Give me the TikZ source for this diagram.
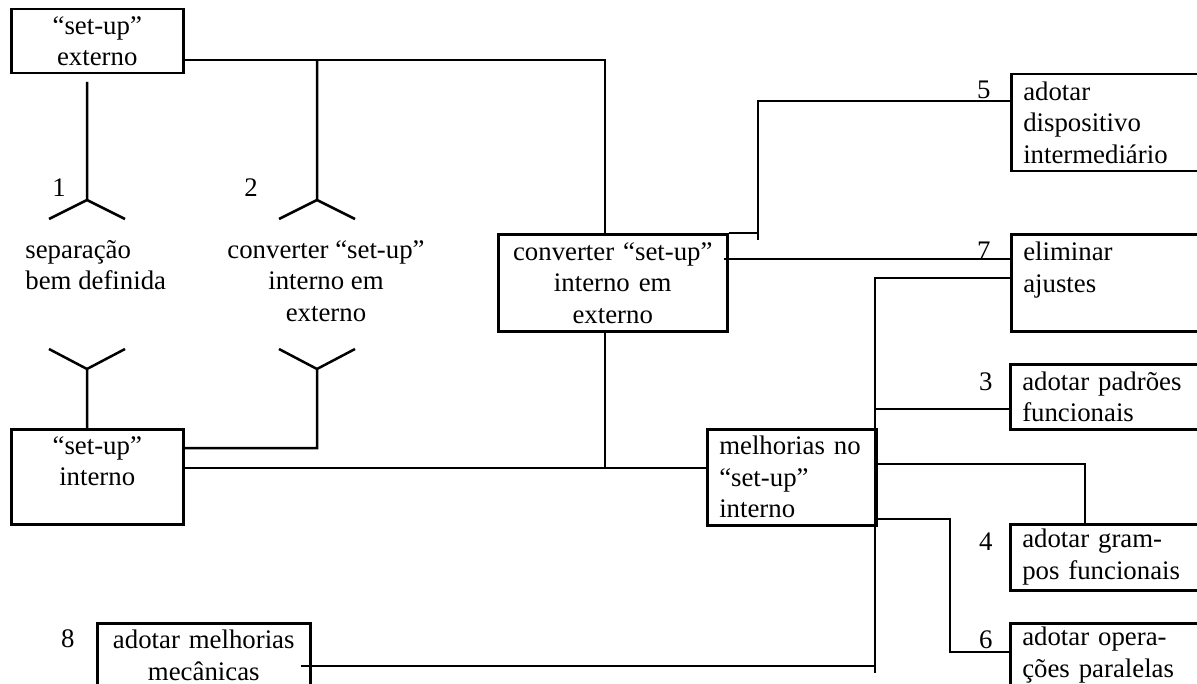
\documentclass[tikz,border=0pt]{standalone}
\usepackage{fontspec}
\setmainfont{Liberation Serif}
\usepackage{tikz}
\usetikzlibrary{positioning,calc}
\tikzset{every node/.append style={align=center}}

\begin{document}
\begin{tikzpicture}[
    x=0.5pt, y=-0.5pt,
    box/.style={draw, line width=1.25pt, anchor=north west, inner ysep=0pt, inner xsep=4pt, font=\fontsize{13.4}{15.75}\selectfont},
    lbox/.style={box, align=left, inner xsep=6pt},
    txt/.style={inner sep=0pt, font=\fontsize{13.4}{15.75}\selectfont},
    link/.style={line width=1.25pt}
]
    \useasboundingbox (0,0) rectangle (1197,684);

    % Set-up externo
    \node[box, minimum width=86pt, text width=78pt, minimum height=32pt] (ext) at (10,8) {
        “set-up”\\
        externo
    };

    % Set-up interno
    \node[box, minimum width=86pt, text width=78pt, minimum height=47.5pt] (int) at (10,428) {
        “set-up”\\
        interno\\
        ~
    };

    % Converter set-up (box)
    \node[box, minimum width=114.5pt, text width=106.5pt, minimum height=48.5pt] (conv) at (497,233) {
        converter “set-up”\\
        interno em\\
        externo
    };

    % Melhorias no set-up interno
    \node[lbox, minimum width=84.5pt, text width=72.5pt, minimum height=48pt] (melh) at (706,428) {
        melhorias no\\
        “set-up”\\
        interno
    };

    % Right column
    \node[lbox, minimum width=93.5pt, text width=81.5pt, minimum height=48.5pt] (dev) at (1010,73) {
        adotar\\
        dispositivo\\
        intermediário
    };
    \node[lbox, minimum width=93.5pt, text width=81.5pt, minimum height=48.5pt] (adj) at (1010,233) {
        eliminar\\
        ajustes\\
        ~
    };
    \node[lbox, minimum width=94pt, text width=82pt, minimum height=32.5pt] (pad) at (1009,363) {
        adotar padrões\\
        funcionais
    };
    \node[lbox, minimum width=94pt, text width=82pt, minimum height=33pt] (gram) at (1009,523) {
        adotar gram-\\
        pos funcionais
    };
    \node[lbox, minimum width=94pt, text width=82pt, minimum height=32pt] (par) at (1009,622) {
        adotar opera-\\
        ções paralelas
    };

    % Melhorias mecanicas
    \node[box, minimum width=106.5pt, text width=98.5pt, minimum height=32pt] (mec) at (96,622) {
        adotar melhorias\\
        mecânicas
    };

    % Free labels
    \node[txt, anchor=north west, align=left] (sep) at (25,240) {separação\\bem definida};
    \node[txt, anchor=north] (convtxt) at (326,240) {converter “set-up”\\interno em\\externo};

    % Numbers
    \node[txt, anchor=base west] (n1) at (52,197) {1};
    \node[txt, anchor=base west] (n2) at (244,197) {2};
    \node[txt, anchor=base east] (n5) at (991,99) {5};
    \node[txt, anchor=base east] (n7) at (991,259) {7};
    \node[txt, anchor=base east] (n3) at (993,390) {3};
    \node[txt, anchor=base east] (n4) at (993,550) {4};
    \node[txt, anchor=base east] (n6) at (993,648) {6};
    \node[txt, anchor=base east] (n8) at (75,647) {8};

    % Junctions
    \coordinate (jt) at (605,60);
    \coordinate (fa) at (87,200);
    \coordinate (fb) at (317,200);
    \coordinate (fc) at (87,369);
    \coordinate (fd) at (317,369);
    \coordinate (ji) at (317,448);
    \coordinate (jm) at (605,468);
    \coordinate (j5) at (758,101);
    \coordinate (j7) at (1010,259);
    \coordinate (js) at (875,278);
    \coordinate (jb) at (875,673);
    \coordinate (j3) at (875,409);
    \coordinate (j4) at (1085,464);
    \coordinate (j6) at (950,519);
    \coordinate (j6b) at (950,652);
    \coordinate (j8) at (875,666);

    % Externo to converter
    \draw[link] (ext.east |- jt) -- (jt) -- (conv.north -| jt);

    % Forks 1 and 2 (top)
    \draw[link] (87,82) -- (fa) -- ++(-38,19) (fa) -- ++(38,19);
    \draw[link] (fb |- jt) -- (fb) -- ++(-38,19) (fb) -- ++(38,19);

    % Forks 1 and 2 (bottom)
    \draw[link] (fc) ++(-38,-20) -- (fc) -- ++(38,-20) (fc) -- (int.north -| fc);
    \draw[link] (fd) ++(-38,-20) -- (fd) -- ++(38,-20) (fd) -- (ji) -- (int.east |- ji);

    % Interno to melhorias
    \draw[link] (int.east |- jm) -- (melh.west |- jm);
    \draw[link] (conv.south -| jm) -- (jm);

    % Converter to 5 and 7
    \draw[link] (conv.north east) -- (j5 |- conv.north) -- (j5) -- (dev.west |- j5);
    \draw[link] (j5 |- conv.north) -- ++(0,7);
    \draw[link] ($(conv.east |- j7)+(-5,0)$) -- (adj.west |- j7);

    % Spine
    \draw[link] (adj.west |- js) -- (js) -- (jb);
    \draw[link] (j3) -- (pad.west |- j3);
    \draw[link] (melh.east |- j4) -- (j4) -- (j4 |- gram.north);
    \draw[link] (melh.east |- j6) -- (j6) -- (j6b) -- (par.west |- j6b);
    \draw[link] ($(mec.east |- j8)+(-11,0)$) -- (j8);

\end{tikzpicture}
\end{document}
